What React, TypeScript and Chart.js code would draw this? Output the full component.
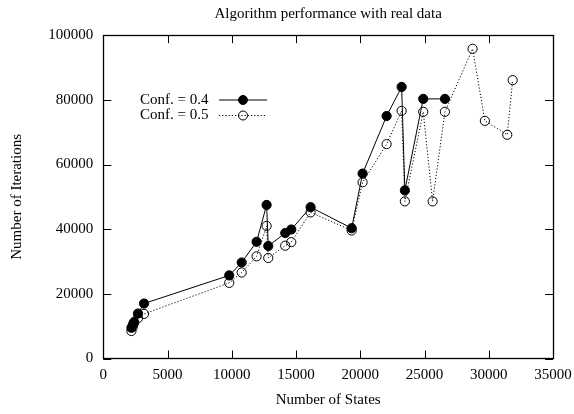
import React, { useEffect, useRef } from "react";
import { Chart, registerables } from "chart.js";

Chart.register(...registerables);

const titleText = "Algorithm performance with real data";
const xTitle = "Number of States";
const yTitle = "Number of Iterations";
const seriesLabels = ["Conf. = 0.4", "Conf. = 0.5"];

const statesConf04 = [2190, 2300, 2400, 2700, 3170, 9800, 10770, 11930, 12710, 12840, 14160, 14630, 16135, 19330, 20180, 22050, 23220, 23470, 24900, 26590];
const itersConf04 = [9500, 10500, 11300, 13900, 17000, 25700, 29700, 36100, 47500, 34800, 38800, 39900, 46800, 40300, 57200, 75000, 84000, 52000, 80300, 80300];

const statesConf05 = [2190, 2300, 2400, 2700, 3170, 9800, 10770, 11930, 12710, 12840, 14160, 14630, 16135, 19330, 20180, 22050, 23220, 23470, 24900, 25630, 26590, 28740, 29700, 31440, 31860];
const itersConf05 = [8500, 9800, 11000, 12500, 13800, 23400, 26600, 31600, 41000, 31100, 34900, 36000, 45200, 39600, 54500, 66300, 76600, 48600, 76300, 48600, 76300, 95800, 73500, 69200, 86100];

const xMin = 0;
const xMax = 35000;
const xStep = 5000;
const yMin = 0;
const yMax = 100000;
const yStep = 20000;

const FONT = "'Liberation Serif', 'Times New Roman', serif";
const FS = 15;

const framePlugin = {
  id: "frame",
  beforeDatasetsDraw(chart: any) {
    const { ctx, chartArea } = chart;
    const { left, right, top, bottom } = chartArea;
    const xs = chart.scales.x;
    const ys = chart.scales.y;
    const tl = 8;
    ctx.save();
    ctx.strokeStyle = "#000";
    ctx.lineWidth = 1;
    ctx.beginPath();
    for (const t of xs.ticks) {
      const px = Math.round(xs.getPixelForValue(t.value)) + 0.5;
      ctx.moveTo(px, bottom);
      ctx.lineTo(px, bottom - tl);
      ctx.moveTo(px, top);
      ctx.lineTo(px, top + tl);
    }
    for (const t of ys.ticks) {
      const py = Math.round(ys.getPixelForValue(t.value)) + 0.5;
      ctx.moveTo(left, py);
      ctx.lineTo(left + tl, py);
      ctx.moveTo(right, py);
      ctx.lineTo(right - tl, py);
    }
    ctx.stroke();
    ctx.lineWidth = 1.3;
    ctx.strokeRect(Math.round(left) + 0.5, Math.round(top) + 0.5, Math.round(right - left), Math.round(bottom - top));
    ctx.restore();
  },
  afterDraw(chart: any) {
    const { ctx } = chart;
    const rows = [
      { y: 100, dash: [] as number[], fill: "#000" },
      { y: 115.5, dash: [1.2, 2], fill: "rgba(0,0,0,0)" },
    ];
    ctx.save();
    ctx.font = `${FS}px ${FONT}`;
    ctx.fillStyle = "#000";
    ctx.textAlign = "right";
    ctx.textBaseline = "middle";
    rows.forEach((r, i) => {
      ctx.fillText(seriesLabels[i], 208.5, r.y);
      ctx.strokeStyle = "#000";
      ctx.lineWidth = 1;
      ctx.setLineDash(r.dash);
      ctx.beginPath();
      ctx.moveTo(219, r.y);
      ctx.lineTo(267, r.y);
      ctx.stroke();
      ctx.setLineDash([]);
      ctx.beginPath();
      ctx.arc(243, r.y, 4.5, 0, Math.PI * 2);
      ctx.fillStyle = r.fill;
      ctx.fill();
      ctx.stroke();
      ctx.fillStyle = "#000";
    });
    ctx.restore();
  },
};

export default function App() {
  const ref = useRef<HTMLCanvasElement>(null);
  useEffect(() => {
    if (!ref.current) return;
    const chart = new Chart(ref.current, {
      type: "scatter",
      data: {
        datasets: [
          {
            label: seriesLabels[0],
            data: statesConf04.map((x, i) => ({ x, y: itersConf04[i] })),
            showLine: true,
            borderColor: "#000",
            borderWidth: 1,
            pointRadius: 4.6,
            pointBackgroundColor: "#000",
            pointBorderColor: "#000",
            pointBorderWidth: 1,
            order: 1,
          },
          {
            label: seriesLabels[1],
            data: statesConf05.map((x, i) => ({ x, y: itersConf05[i] })),
            showLine: true,
            borderColor: "#000",
            borderWidth: 1,
            borderDash: [1.2, 2],
            pointRadius: 4.6,
            pointBackgroundColor: "rgba(0,0,0,0)",
            pointBorderColor: "#000",
            pointBorderWidth: 1,
            order: 0,
          },
        ],
      },
      options: {
        responsive: false,
        animation: false,
        layout: { padding: { left: 0, right: 21, top: 0, bottom: 0 } },
        plugins: {
          legend: { display: false },
          tooltip: { enabled: false },
          title: {
            display: true,
            fullSize: false,
            text: titleText,
            color: "#000",
            font: { family: FONT, size: FS, weight: "normal" },
            padding: { top: 5, bottom: 12.2 },
          },
        },
        scales: {
          x: {
            type: "linear",
            min: xMin,
            max: xMax,
            grid: { display: false, drawTicks: false },
            border: { display: false },
            ticks: {
              stepSize: xStep,
              color: "#000",
              padding: 8,
              maxRotation: 0,
              font: { family: FONT, size: FS },
              callback: (v: any) => String(v),
            },
            title: {
              display: true,
              text: xTitle,
              color: "#000",
              font: { family: FONT, size: FS },
              padding: { top: 0, bottom: 5 },
            },
            afterFit: (s: any) => {
              s.height = 414 - 358.5;
              s.paddingLeft = 0;
              s.paddingRight = 0;
            },
          },
          y: {
            type: "linear",
            min: yMin,
            max: yMax,
            grid: { display: false, drawTicks: false },
            border: { display: false },
            ticks: {
              stepSize: yStep,
              color: "#000",
              padding: 10,
              font: { family: FONT, size: FS },
              callback: (v: any) => String(v),
            },
            title: {
              display: true,
              text: yTitle,
              color: "#000",
              font: { family: FONT, size: FS },
              padding: { top: 8, bottom: 0 },
            },
            afterFit: (s: any) => {
              s.width = 103.3;
              s.paddingTop = 0;
              s.paddingBottom = 0;
            },
          },
        },
      },
      plugins: [framePlugin],
    });
    return () => chart.destroy();
  }, []);
  return (
    <div style={{ position: "fixed", left: 0, top: 0, width: 574, height: 414, background: "#fff" }}>
      <canvas ref={ref} width={574} height={414} style={{ display: "block" }} />
    </div>
  );
}
